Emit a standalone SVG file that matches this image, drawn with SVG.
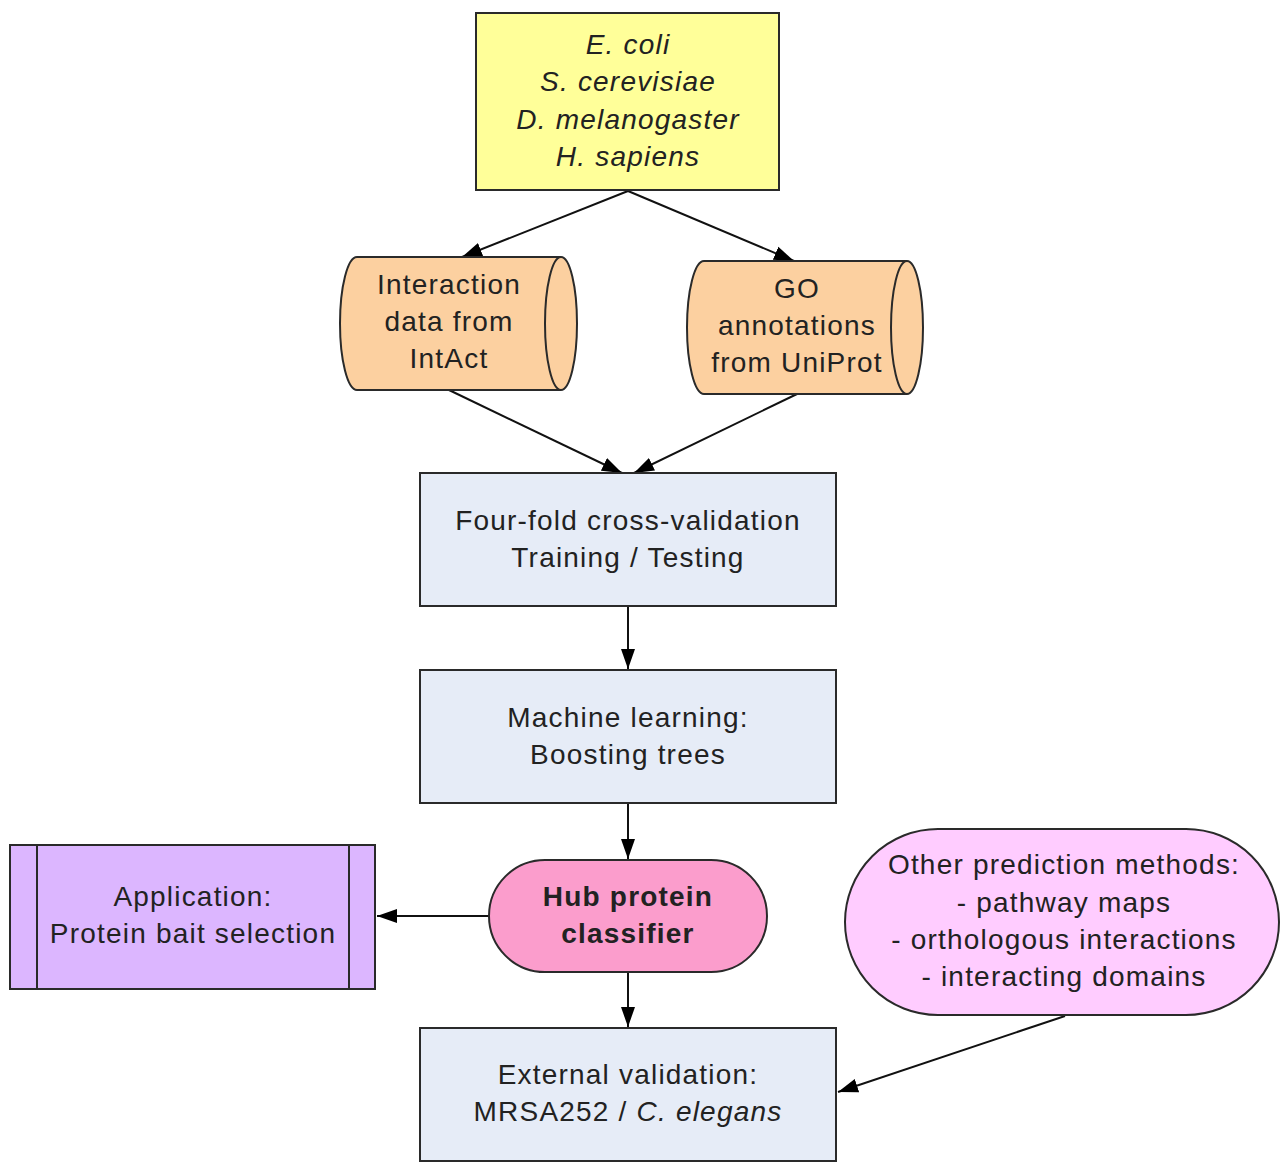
<svg xmlns="http://www.w3.org/2000/svg" width="1281" height="1163" viewBox="0 0 1281 1163">
<style>
.sh{stroke:#2a2a2a;stroke-width:2}
.t{font-family:"Liberation Sans",Arial,sans-serif;font-size:28px;letter-spacing:1.2px;fill:#222;text-anchor:middle}
.i{font-style:italic}
.b{font-weight:bold;letter-spacing:1.2px}
.c{stroke:#111;stroke-width:2;fill:none;marker-end:url(#ah)}
</style>
<defs>
<marker id="ah" markerWidth="22" markerHeight="16" refX="20" refY="8" orient="auto" markerUnits="userSpaceOnUse">
<path d="M0,1 L20,8 L0,15 Z" fill="#000"/>
</marker>
</defs>
<rect width="1281" height="1163" fill="#fff"/>
<g id="connectors">
<line class="c" x1="628" y1="191" x2="462" y2="257"/>
<line class="c" x1="628" y1="191" x2="794" y2="261"/>
<line class="c" x1="449" y1="390" x2="622" y2="473"/>
<line class="c" x1="797" y1="394" x2="634" y2="473"/>
<line class="c" x1="628" y1="606" x2="628" y2="669"/>
<line class="c" x1="628" y1="803" x2="628" y2="859"/>
<line class="c" x1="489" y1="916" x2="377" y2="916"/>
<line class="c" x1="628" y1="972" x2="628" y2="1027"/>
<line class="c" x1="1065" y1="1016" x2="838" y2="1092"/>
</g>
<g id="species">
<rect class="sh" x="476" y="13" width="303" height="177" fill="#ffff99"/>
<text class="t i" x="628" y="54">E. coli</text>
<text class="t i" x="628" y="91">S. cerevisiae</text>
<text class="t i" x="628" y="129">D. melanogaster</text>
<text class="t i" x="628" y="166">H. sapiens</text>
</g>
<g id="intact">
<path class="sh" fill="#fcd0a0" d="M357,257 L561,257 A16,66.5 0 0 1 561,390 L357,390 A17,66.5 0 0 1 357,257 Z"/>
<path class="sh" fill="none" d="M561,257 A16,66.5 0 0 0 561,390"/>
<text class="t" x="449" y="294">Interaction</text>
<text class="t" x="449" y="331">data from</text>
<text class="t" x="449" y="368">IntAct</text>
</g>
<g id="go">
<path class="sh" fill="#fcd0a0" d="M704,261 L907,261 A16,66.5 0 0 1 907,394 L704,394 A17,66.5 0 0 1 704,261 Z"/>
<path class="sh" fill="none" d="M907,261 A16,66.5 0 0 0 907,394"/>
<text class="t" x="797" y="298">GO</text>
<text class="t" x="797" y="335">annotations</text>
<text class="t" x="797" y="372">from UniProt</text>
</g>
<g id="crossval">
<rect class="sh" x="420" y="473" width="416" height="133" fill="#e6ecf7"/>
<text class="t" x="628" y="530">Four-fold cross-validation</text>
<text class="t" x="628" y="567">Training / Testing</text>
</g>
<g id="ml">
<rect class="sh" x="420" y="670" width="416" height="133" fill="#e6ecf7"/>
<text class="t" x="628" y="727">Machine learning:</text>
<text class="t" x="628" y="764">Boosting trees</text>
</g>
<g id="hub">
<rect class="sh" x="489" y="860" width="278" height="112" rx="56" ry="56" fill="#fb9dcc"/>
<text class="t b" x="628" y="906">Hub protein</text>
<text class="t b" x="628" y="943">classifier</text>
</g>
<g id="application">
<rect class="sh" x="10" y="845" width="365" height="144" fill="#dcb6ff"/>
<line class="sh" x1="37" y1="845" x2="37" y2="989"/>
<line class="sh" x1="349" y1="845" x2="349" y2="989"/>
<text class="t" x="193" y="906">Application:</text>
<text class="t" x="193" y="943">Protein bait selection</text>
</g>
<g id="other">
<rect class="sh" x="845" y="829" width="434" height="186" rx="93" ry="93" fill="#ffccff"/>
<text class="t" x="1064" y="874">Other prediction methods:</text>
<text class="t" x="1064" y="912">- pathway maps</text>
<text class="t" x="1064" y="949">- orthologous interactions</text>
<text class="t" x="1064" y="986">- interacting domains</text>
</g>
<g id="external">
<rect class="sh" x="420" y="1028" width="416" height="133" fill="#e6ecf7"/>
<text class="t" x="628" y="1084">External validation:</text>
<text class="t" x="628" y="1121">MRSA252 / <tspan class="i">C. elegans</tspan></text>
</g>
</svg>
